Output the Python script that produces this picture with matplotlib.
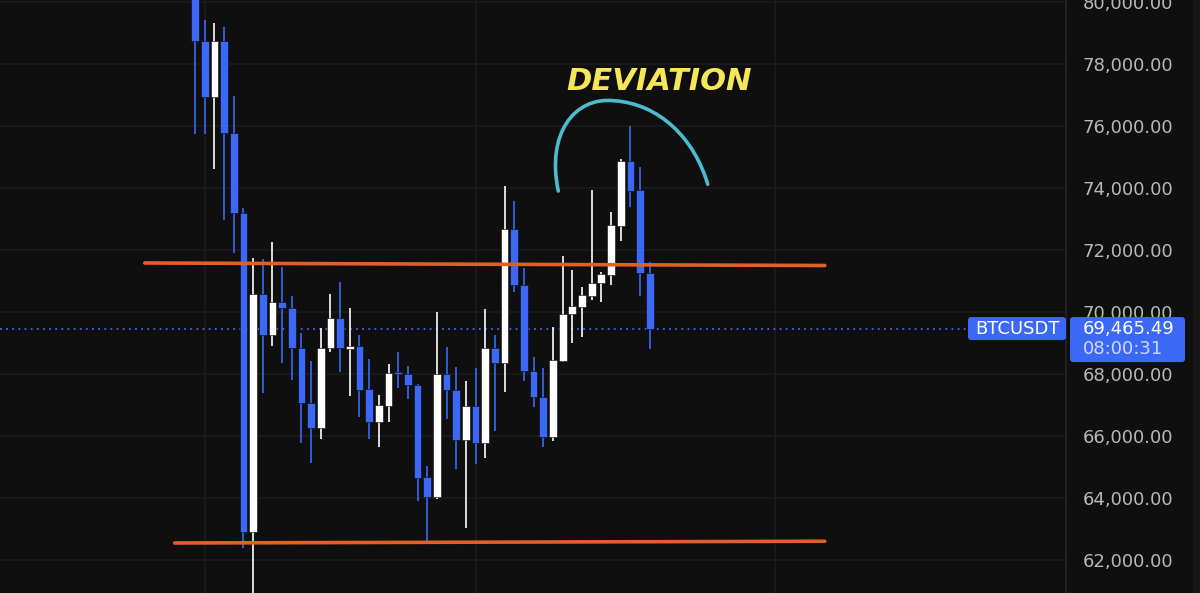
import numpy as np
import matplotlib
matplotlib.use("Agg")
import matplotlib.pyplot as plt
from matplotlib.patches import FancyBboxPatch, PathPatch, Rectangle
from matplotlib.path import Path

# Candles (4h BTCUSDT)
opens = [80500, 78742, 76945, 78742, 75765, 73184, 62912, 70581, 69268, 70322,
         70139, 68848, 67064, 66268, 68828, 69816, 68810, 68903, 67506, 66439,
         66977, 68040, 67990, 67645, 64666, 64043, 68000, 67490, 65871, 66968,
         65765, 68829, 68345, 72677, 70871, 68106, 67268, 65964, 68419, 69925,
         70171, 70526, 70926, 71194, 72787, 74884, 73936, 71248]
highs = [80900, 79420, 79333, 79204, 76968, 73345, 71732, 71700, 72268, 71462,
         70516, 69313, 68419, 69474, 70581, 70977, 70119, 69258, 68474, 67322,
         68322, 68719, 68258, 67677, 65032, 69990, 68855, 68216, 67774, 68184,
         70087, 69258, 74065, 73581, 71409, 68539, 68184, 69526, 71806, 71355,
         70797, 73936, 71300, 73216, 74929, 76000, 74668, 71603]
lows = [75742, 75742, 74613, 72968, 71913, 62396, 60800, 67377, 68913, 68345,
        67806, 65764, 65138, 65893, 68719, 68074, 67300, 66623, 65893, 65655,
        66439, 67538, 67193, 63903, 62558, 63958, 66545, 64925, 63042, 65087,
        65280, 66172, 67410, 70655, 67774, 66926, 65642, 65838, 68397, 68990,
        69203, 70387, 70332, 70871, 72290, 73397, 70516, 68806]
closes = [78742, 76945, 78742, 75765, 73184, 62912, 70581, 69268, 70322, 70139,
          68848, 67064, 66268, 68848, 69816, 68828, 68900, 67484, 66451, 67000,
          68023, 68000, 67645, 64655, 64043, 68000, 67468, 65871, 66968, 65765,
          68829, 68345, 72677, 70871, 68106, 67268, 65977, 68452, 69935, 70193,
          70548, 70926, 71216, 72807, 74884, 73913, 71248, 69465.49]

last_price = 69465.49
symbol = "BTCUSDT"
countdown = "08:00:31"
price_ticks = list(range(62000, 80001, 2000))
time_grid = [1, 29, 60]

# drawn lines: (bar index, price) at both ends
resistance = [(-5.2, 71581), (65.1, 71500)]
support = [(-2.1, 62548), (65.1, 62605)]
# hand drawn arc over the top, cubic bezier control points
arc_pts = [(37.55, 73903), (36.3, 75750), (39.2, 76950), (43.3, 76816),
           (48.0, 76720), (51.6, 75600), (53.0, 74119)]
label_pos = (48.0, 77435)

BG = "#0f0f0f"
GRID = "#1c1c1c"
UP = "#ffffff"
DOWN = "#3b68f5"
ORANGE = "#e25f25"
CYAN = "#4cbccc"
YELLOW = "#f7e658"

W, H = 1200, 593
fig = plt.figure(figsize=(W / 100, H / 100), dpi=100, facecolor=BG)
ax = fig.add_axes([0, 0, 1066 / W, 1])
ax.set_facecolor(BG)

n = len(opens)
x = np.arange(n)
o = np.array(opens, float)
c = np.array(closes, float)
hi = np.array(highs, float)
lo = np.array(lows, float)
col = np.where(c >= o, UP, DOWN)

ax.vlines(x, lo, hi, colors=col, linewidth=1.2, zorder=3)
body = np.maximum(np.abs(c - o), 60)
ax.bar(x, body, bottom=np.minimum(o, c), width=0.8, color=col,
       edgecolor="#0a0a0a", linewidth=0.4, zorder=4)

ax.set_xlim(-20.16, 90.03)
ax.set_ylim(60935, 80065)

ax.set_yticks(price_ticks)
ax.set_yticklabels([f"{p:,.2f}" for p in price_ticks])
ax.set_xticks(time_grid)
ax.yaxis.tick_right()
ax.tick_params(axis="y", length=0, pad=12, labelsize=13, labelcolor="#b8b8b8")
ax.tick_params(axis="x", length=0, labelbottom=False)
ax.grid(True, color=GRID, linewidth=1.2, zorder=0)
for s in ["top", "bottom", "left"]:
    ax.spines[s].set_visible(False)
ax.spines["right"].set_color("#242424")
ax.spines["right"].set_linewidth(1.2)

# price line
ax.axhline(last_price, xmax=966 / 1066, color=DOWN, linewidth=1.3,
           linestyle=(0, (1, 2.4)), zorder=2)

# orange range lines
for line in (resistance, support):
    ax.plot([p[0] for p in line], [p[1] for p in line], color=ORANGE,
            linewidth=2.6, solid_capstyle="round", zorder=5)

codes = [Path.MOVETO] + [Path.CURVE4] * (len(arc_pts) - 1)
ax.add_patch(PathPatch(Path(arc_pts, codes), facecolor="none", edgecolor=CYAN,
                       linewidth=2.6, capstyle="round", zorder=6))
ax.text(label_pos[0], label_pos[1], "DEVIATION", color=YELLOW, fontsize=22,
        fontweight="bold", fontstyle="italic", ha="center", va="center", zorder=7)

# overlay in pixel coordinates for the price tags
ov = fig.add_axes([0, 0, 1, 1], zorder=10)
ov.set_xlim(0, W)
ov.set_ylim(H, 0)
ov.axis("off")
ov.patch.set_alpha(0)
fig.canvas.draw()
ypx = H - ax.transData.transform((0, last_price))[1]

ov.add_patch(Rectangle((1193, 0), 7, H, color="#171717", lw=0))
ov.add_patch(FancyBboxPatch((968, ypx - 11.5), 98, 23,
                            boxstyle="round,pad=0,rounding_size=3",
                            fc=DOWN, ec="none"))
ov.add_patch(FancyBboxPatch((1070, ypx - 11.5), 115, 45,
                            boxstyle="round,pad=0,rounding_size=3",
                            fc=DOWN, ec="none"))
ov.text(975, ypx, symbol, color="white", fontsize=13, va="center", ha="left")
ov.text(1083, ypx, f"{last_price:,.2f}", color="white", fontsize=13,
        va="center", ha="left")
ov.text(1083, ypx + 20, countdown, color="#cfd9ff", fontsize=13,
        va="center", ha="left")

fig.savefig("out.png", dpi=100, facecolor=BG)
